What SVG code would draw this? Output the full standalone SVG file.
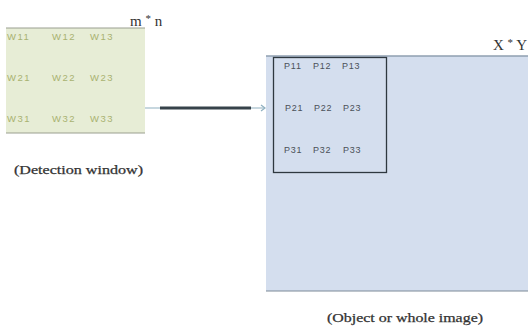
<svg xmlns="http://www.w3.org/2000/svg" width="528" height="327" viewBox="0 0 528 327">
<style>
.w{font-family:"Liberation Sans",Arial,sans-serif;font-size:9.5px;fill:#a9b271;letter-spacing:1.5px}
.p{font-family:"Liberation Sans",Arial,sans-serif;font-size:9px;fill:#4a5058;letter-spacing:0.8px}
.s{font-family:"Liberation Serif","Times New Roman",serif;fill:#333}
.c{font-family:"Liberation Serif","Times New Roman",serif;fill:#333;font-size:12.5px;stroke:#333;stroke-width:0.25px}
</style>
<rect width="528" height="327" fill="#fff"/>
<g id="window">
<rect x="6" y="28" width="139" height="105" fill="#e7edd6"/>
<line x1="6" y1="28" x2="145" y2="28" stroke="#9a9f90" stroke-width="1"/>
<line x1="6" y1="133" x2="145" y2="133" stroke="#9a9f90" stroke-width="1"/>
<text class="w" x="7" y="40">W11</text><text class="w" x="52" y="40">W12</text><text class="w" x="90" y="40">W13</text>
<text class="w" x="7" y="81">W21</text><text class="w" x="52" y="81">W22</text><text class="w" x="90" y="81">W23</text>
<text class="w" x="7" y="122">W31</text><text class="w" x="52" y="122">W32</text><text class="w" x="90" y="122">W33</text>
<text class="s" x="130" y="26" font-size="15">m <tspan dy="-4" font-size="11">*</tspan><tspan dy="4"> n</tspan></text>
<text class="c" x="14" y="174" textLength="129" lengthAdjust="spacingAndGlyphs">(Detection window)</text>
</g>
<g id="image">
<rect x="266" y="56" width="262" height="235" fill="#d4deee"/>
<line x1="266" y1="56" x2="528" y2="56" stroke="#8f9fb0" stroke-width="1.5"/>
<line x1="266" y1="291" x2="528" y2="291" stroke="#7c8a98" stroke-width="1"/>
<rect x="273.5" y="57.5" width="113" height="115" fill="none" stroke="#2e3840" stroke-width="1.3"/>
<text class="p" x="284" y="69">P11</text><text class="p" x="313" y="69">P12</text><text class="p" x="342" y="69">P13</text>
<text class="p" x="285" y="111">P21</text><text class="p" x="314" y="111">P22</text><text class="p" x="343" y="111">P23</text>
<text class="p" x="284" y="153">P31</text><text class="p" x="313" y="153">P32</text><text class="p" x="343" y="153">P33</text>
<text class="s" x="493" y="50" font-size="15">X <tspan dy="-4" font-size="11">*</tspan><tspan dy="4"> Y</tspan></text>
<text class="c" x="327" y="322" textLength="156" lengthAdjust="spacingAndGlyphs">(Object or whole image)</text>
</g>
<g id="connectors">
<line x1="145" y1="108" x2="264" y2="108" stroke="#8fb0c0" stroke-width="1.2"/>
<line x1="160" y1="108" x2="251" y2="108" stroke="#37424a" stroke-width="3"/>
<polyline points="261,105 265,108 261,111" fill="none" stroke="#8fb0c0" stroke-width="1.2"/>
</g>
</svg>
